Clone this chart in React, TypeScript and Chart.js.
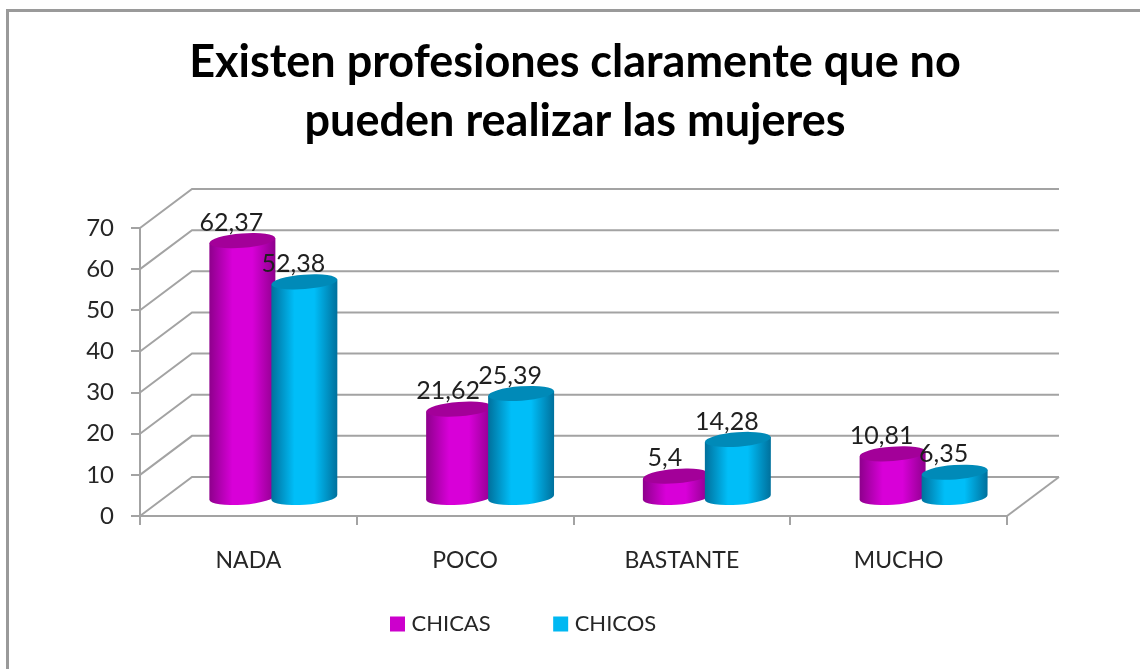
import React, { useEffect, useRef } from "react";
import { Chart, registerables } from "chart.js";

Chart.register(...registerables);

const categories = ["NADA", "POCO", "BASTANTE", "MUCHO"];
const chicas = [62.37, 21.62, 5.4, 10.81];
const chicos = [52.38, 25.39, 14.28, 6.35];
const seriesNames = ["CHICAS", "CHICOS"];
const titleLines = ["Existen profesiones claramente que no", "pueden realizar las mujeres"];

const FONT = "Lato, 'Open Sans', sans-serif";
const GRID = "#a3a3a3";
const DEPTH_X = 52;
const DEPTH_Y = 39;
const SHIFT_X = 25;
const FLOOR_Y = 497.5;
const SCALE_K = 1.005;
const RX = 33;
const RY = 7.2;
const TILT = (4.3 * Math.PI) / 180;

const palettes = [
  { edge: "#8e008c", mid: "#d800d8", top: "#a30099", key: "#cc00cc" },
  { edge: "#00709c", mid: "#00bef8", top: "#008ab8", key: "#00b8f2" },
];

function cylinder(ctx: CanvasRenderingContext2D, cx: number, topY: number, p: typeof palettes[number]) {
  const lift = RX * Math.sin(TILT);
  const g = ctx.createLinearGradient(cx - RX, 0, cx + RX, 0);
  g.addColorStop(0, p.edge);
  g.addColorStop(0.35, p.mid);
  g.addColorStop(0.65, p.mid);
  g.addColorStop(1, p.edge);
  ctx.beginPath();
  ctx.moveTo(cx - RX, topY + lift);
  ctx.lineTo(cx - RX, FLOOR_Y + lift);
  ctx.ellipse(cx, FLOOR_Y, RX, RY, -TILT, Math.PI, 0, true);
  ctx.lineTo(cx + RX, topY - lift);
  ctx.closePath();
  ctx.fillStyle = g;
  ctx.fill();
  ctx.beginPath();
  ctx.ellipse(cx, topY, RX, RY, -TILT, 0, Math.PI * 2);
  ctx.fillStyle = p.top;
  ctx.fill();
}

const scenePlugin = {
  id: "scene",
  afterLayout(chart: any) {
    chart.titleBlock.left = 5;
    chart.titleBlock.right = 1145;
    const l = chart.legend;
    const pad = l.options.labels.padding;
    l.left = 394.5 - pad;
    l.right = 1000;
    l.top = 613 - pad;
  },
  beforeDraw(chart: any) {
    const { ctx } = chart;
    ctx.save();
    ctx.strokeStyle = "#9a9a9a";
    ctx.lineWidth = 3;
    ctx.beginPath();
    ctx.moveTo(7.5, 669);
    ctx.lineTo(7.5, 10.5);
    ctx.lineTo(1140, 10.5);
    ctx.stroke();
    ctx.restore();
  },
  beforeDatasetsDraw(chart: any) {
    const { ctx, chartArea, scales } = chart;
    ctx.save();
    ctx.strokeStyle = GRID;
    ctx.lineWidth = 2;
    scales.y.ticks.forEach((t: any) => {
      const y = scales.y.getPixelForValue(t.value);
      ctx.beginPath();
      ctx.moveTo(chartArea.left, y);
      ctx.lineTo(chartArea.left + DEPTH_X, y - DEPTH_Y);
      ctx.lineTo(chartArea.right + DEPTH_X, y - DEPTH_Y);
      ctx.stroke();
    });
    ctx.beginPath();
    ctx.moveTo(chartArea.right, chartArea.bottom);
    ctx.lineTo(chartArea.right + DEPTH_X, chartArea.bottom - DEPTH_Y);
    ctx.stroke();
    chart.data.datasets.forEach((_: any, d: number) => {
      chart.getDatasetMeta(d).data.forEach((el: any) => {
        const topY = FLOOR_Y - (el.base - el.y) * SCALE_K;
        cylinder(ctx, el.x + SHIFT_X, topY, palettes[d]);
      });
    });
    ctx.restore();
  },
  beforeDatasetDraw() {
    return false;
  },
  afterDatasetsDraw(chart: any) {
    const { ctx } = chart;
    ctx.save();
    ctx.font = `25px ${FONT}`;
    ctx.fillStyle = "#1f1f1f";
    ctx.textAlign = "center";
    ctx.textBaseline = "middle";
    chart.data.datasets.forEach((ds: any, d: number) => {
      chart.getDatasetMeta(d).data.forEach((el: any, i: number) => {
        const topY = FLOOR_Y - (el.base - el.y) * SCALE_K;
        ctx.fillText(String(ds.data[i]).replace(".", ","), el.x + SHIFT_X - 11, topY - 18);
      });
    });
    ctx.restore();
  },
};

export default function App() {
  const ref = useRef<HTMLCanvasElement>(null);
  useEffect(() => {
    const chart = new Chart(ref.current as HTMLCanvasElement, {
      type: "bar",
      data: {
        labels: categories,
        datasets: [
          { label: seriesNames[0], data: chicas, backgroundColor: palettes[0].key },
          { label: seriesNames[1], data: chicos, backgroundColor: palettes[1].key },
        ],
      },
      plugins: [scenePlugin],
      options: {
        responsive: false,
        animation: false,
        layout: { padding: { left: 0, right: 133, top: 0, bottom: 0 } },
        datasets: { bar: { categoryPercentage: 0.572, barPercentage: 1 } },
        plugins: {
          tooltip: { enabled: false },
          title: {
            display: true,
            text: titleLines,
            color: "#000000",
            font: { family: FONT, size: 45, weight: "bold", lineHeight: "59px" },
            padding: { top: 33, bottom: 77 },
          },
          legend: {
            display: true,
            position: "bottom",
            align: "start",
            labels: {
              font: { family: FONT, size: 22 },
              color: "#262626",
              padding: 67,
              boxWidth: 6,
              boxHeight: 6,
              generateLabels: (c: any) =>
                c.data.datasets.map((ds: any, i: number) => ({
                  text: ds.label,
                  fillStyle: ds.backgroundColor,
                  strokeStyle: ds.backgroundColor,
                  lineWidth: 9,
                  lineJoin: "miter",
                  fontColor: "#262626",
                  datasetIndex: i,
                })),
            },
          },
        },
        scales: {
          x: {
            afterFit: (s: any) => {
              s.height = 54;
            },
            grid: { drawOnChartArea: false, color: GRID, tickColor: GRID, tickLength: 9, lineWidth: 2 },
            border: { color: GRID, width: 2 },
            ticks: { color: "#262626", font: { family: FONT, size: 23 }, padding: 22, maxRotation: 0 },
          },
          y: {
            min: 0,
            max: 70,
            afterFit: (s: any) => {
              s.width = 140;
            },
            grid: { drawOnChartArea: false, color: GRID, tickColor: GRID, tickLength: 9, lineWidth: 2 },
            border: { color: GRID, width: 2 },
            ticks: { stepSize: 10, color: "#262626", font: { family: FONT, size: 24 }, padding: 17 },
          },
        },
      },
    } as any);
    return () => chart.destroy();
  }, []);
  return (
    <canvas
      ref={ref}
      width={1140}
      height={669}
      style={{ position: "absolute", left: 0, top: 0, display: "block" }}
    />
  );
}
